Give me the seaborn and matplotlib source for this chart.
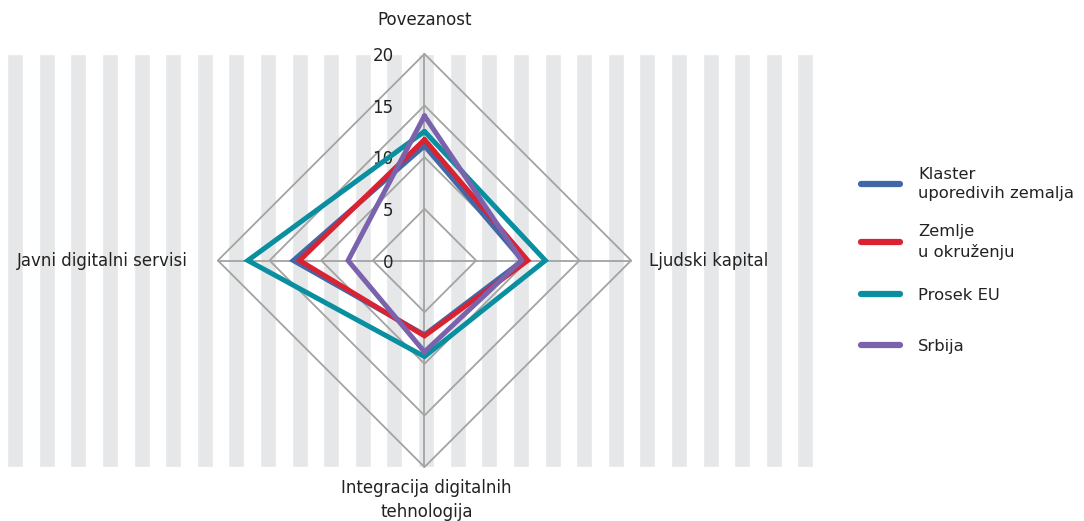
import numpy as np
import matplotlib
matplotlib.use("Agg")
import matplotlib.pyplot as plt
import seaborn as sns

# axes of the radar, clockwise from the top
categories = ["Povezanost", "Ljudski kapital",
              "Integracija digitalnih\ntehnologija", "Javni digitalni servisi"]
series_names = ["Klaster\nuporedivih zemalja", "Zemlje\nu okruženju", "Prosek EU", "Srbija"]
klaster = [11.1, 9.5, 7.2, 12.7]
zemlje = [11.7, 10.0, 7.3, 12.1]
prosek_eu = [12.5, 11.7, 9.3, 17.1]
srbija = [14.0, 9.4, 8.85, 7.4]
ticks = [0, 5, 10, 15, 20]

colors = ["#4068a8", "#d92332", "#0a8fa0", "#7b62ad"]

sns.set_theme(style="white")
plt.rcParams["font.family"] = ["DejaVu Sans"]

fig = plt.figure(figsize=(10.84, 5.21), dpi=100)
ax = fig.add_axes([0, 0, 1, 1])
ax.set_xlim(-41.09, 63.84)
ax.set_ylim(-25.22, 25.22)
ax.axis("off")

# background stripes
stripe_x = -40.4 + 0.775 + np.arange(26) * 3.06
ax.bar(stripe_x, 40, bottom=-20, width=1.55, color="#e6e7e8", zorder=0)

angles = np.array([0, np.pi / 2, np.pi, 3 * np.pi / 2])


def to_xy(vals):
    v = np.asarray(vals, dtype=float)
    x = v * np.sin(angles)
    y = v * np.cos(angles)
    return np.append(x, x[0]), np.append(y, y[0])


# grid diamonds and spokes
grid_c = "#a3a3a3"
for t in ticks[1:]:
    gx, gy = to_xy([t] * 4)
    ax.plot(gx, gy, color=grid_c, lw=1.3, zorder=1)
ax.plot([0, 0], [-20, 20], color=grid_c, lw=1.3, zorder=1)
ax.plot([-20, 20], [0, 0], color=grid_c, lw=1.3, zorder=1)

txt_c = "#222222"
for t in ticks:
    ax.text(-3.0, t - 0.2, str(t), ha="right", va="center", fontsize=12, color=txt_c, zorder=2)

# series
data = [klaster, prosek_eu, zemlje, srbija]
order = [0, 2, 1, 3]
for i, vals in zip(order, data):
    sx, sy = to_xy(vals)
    ax.plot(sx, sy, color=colors[i], lw=3.6, solid_joinstyle="miter", zorder=3 + i)

# legend: one entry each so the spacing follows the original
legend_y = [184, 242, 295, 346]
for name, c, yp in zip(series_names, colors, legend_y):
    h = plt.Line2D([], [], color=c, lw=4.5, solid_capstyle="round")
    lg = fig.legend([h], [name], loc="center left", bbox_to_anchor=(861 / 1084, 1 - yp / 521),
                    frameon=False, fontsize=11.8, handlelength=2.4, handletextpad=1.1,
                    borderpad=0, borderaxespad=0, labelcolor=txt_c)
    for t in lg.get_texts():
        t.set_linespacing(1.35)

# category labels
lab = dict(fontsize=12, color=txt_c)
ax.text(0, 23.3, categories[0], ha="center", va="center", **lab)
ax.text(21.7, 0, categories[1], ha="left", va="center", **lab)
ax.text(0.2, -21.15, categories[2], ha="center", va="top", linespacing=1.4, **lab)
ax.text(-22.9, 0, categories[3], ha="right", va="center", **lab)

fig.savefig("out.png", dpi=100)
